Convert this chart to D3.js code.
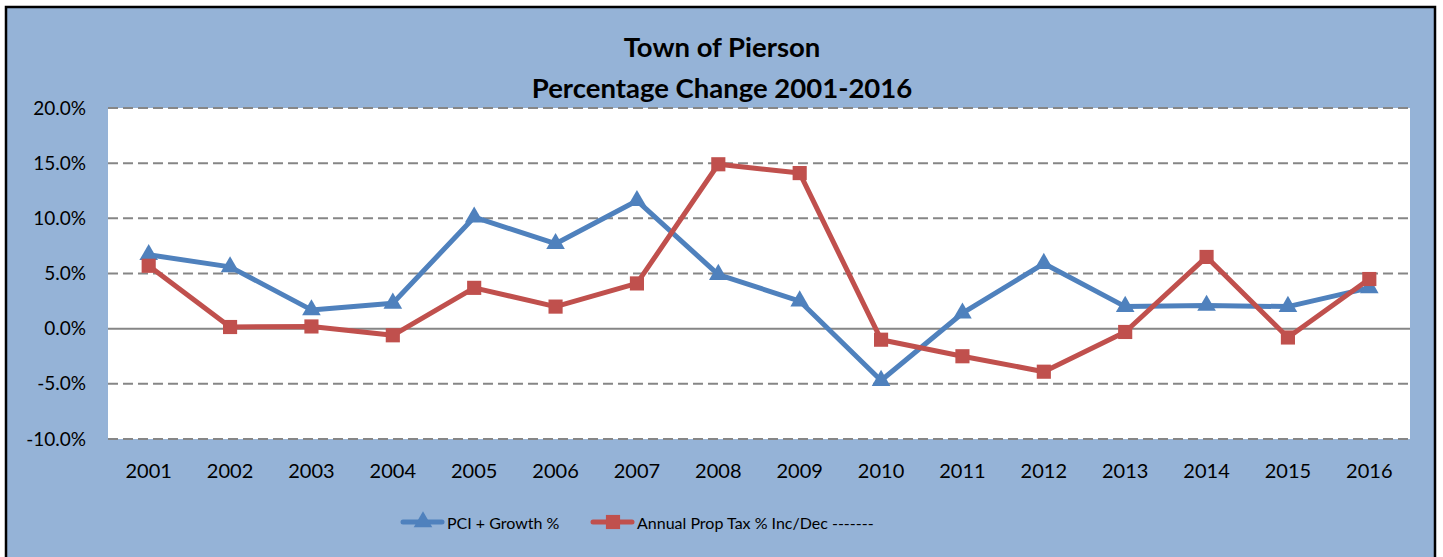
<!DOCTYPE html>
<html>
<head>
<meta charset="utf-8">
<script src="https://cdn.jsdelivr.net/npm/d3@7"></script>
<style>
  body { margin: 0; background: #fff; }
  svg { display: block; font-family: Lato, "Open Sans", sans-serif; }
</style>
</head>
<body>
<script>
let years = ["2001","2002","2003","2004","2005","2006","2007","2008","2009","2010","2011","2012","2013","2014","2015","2016"];
let pciGrowth = [6.7, 5.6, 1.7, 2.3, 10.1, 7.7, 11.6, 4.9, 2.5, -4.7, 1.4, 5.9, 2.0, 2.1, 2.0, 3.7];
let propTax = [5.7, 0.15, 0.2, -0.6, 3.7, 2.0, 4.1, 14.9, 14.1, -1.0, -2.5, -3.9, -0.3, 6.5, -0.8, 4.5];
let yTicks = [-10, -5, 0, 5, 10, 15, 20];
let seriesNames = ["PCI + Growth %", "Annual Prop Tax % Inc/Dec -------"];

let width = 1443, height = 557;
let plot = { left: 108, right: 1410, top: 108, bottom: 439 };
let blue = "#4F81BD", red = "#C0504D";

let svg = d3.select("body").append("svg")
    .attr("width", width)
    .attr("height", height);

// chart area background + border
svg.append("rect")
    .attr("x", 6).attr("y", 7)
    .attr("width", 1429).attr("height", 560)
    .attr("fill", "#95B3D7")
    .attr("stroke", "#000")
    .attr("stroke-width", 2.5);

svg.append("rect")
    .attr("x", plot.left).attr("y", plot.top)
    .attr("width", plot.right - plot.left)
    .attr("height", plot.bottom - plot.top)
    .attr("fill", "#fff");

let x = d3.scaleBand()
    .domain(years)
    .range([plot.left, plot.right]);

let y = d3.scaleLinear()
    .domain([-10, 20])
    .range([plot.bottom, plot.top]);

// gridlines
svg.selectAll("line.grid")
    .data(yTicks)
    .enter()
        .append("line")
        .attr("class", "grid")
        .attr("x1", plot.left)
        .attr("x2", plot.right)
        .attr("y1", (d) => y(d))
        .attr("y2", (d) => y(d))
        .attr("stroke", "#868686")
        .attr("stroke-width", 2)
        .attr("stroke-dasharray", (d) => d === 0 ? null : "10,5");

// y axis labels
let yAxis = d3.axisLeft(y)
    .tickValues(yTicks)
    .tickSize(0)
    .tickPadding(0)
    .tickFormat((d) => d.toFixed(1) + "%");

svg.append("g")
    .attr("transform", `translate(86, 0)`)
    .call(yAxis)
    .call((g) => g.select(".domain").remove())
    .selectAll("text")
        .attr("font-size", 19)
        .attr("font-family", "Lato, 'Open Sans', sans-serif")
        .attr("fill", "#000");

// x axis labels
let xAxis = d3.axisBottom(x)
    .tickSize(0)
    .tickPadding(0);

svg.append("g")
    .attr("transform", `translate(0, 464)`)
    .call(xAxis)
    .call((g) => g.select(".domain").remove())
    .selectAll("text")
        .attr("font-size", 20)
        .attr("font-family", "Lato, 'Open Sans', sans-serif")
        .attr("fill", "#000");

// title
svg.append("text")
    .attr("x", 722).attr("y", 57)
    .attr("text-anchor", "middle")
    .attr("font-size", 27.5)
    .attr("font-weight", "bold")
    .text("Town of Pierson");

svg.append("text")
    .attr("x", 722).attr("y", 98)
    .attr("text-anchor", "middle")
    .attr("font-size", 27.5)
    .attr("font-weight", "bold")
    .text("Percentage Change 2001-2016");

let line = d3.line()
    .x((d, i) => x(years[i]) + x.bandwidth() / 2)
    .y((d) => y(d));

let triangle = d3.symbol().type(d3.symbolTriangle).size(150);
let square = d3.symbol().type(d3.symbolSquare).size(200);

// series
let series = [
    { values: pciGrowth, color: blue, marker: triangle },
    { values: propTax, color: red, marker: square }
];

series.forEach((s) => {
    svg.append("path")
        .attr("d", line(s.values))
        .attr("fill", "none")
        .attr("stroke", s.color)
        .attr("stroke-width", 5)
        .attr("stroke-linejoin", "round");

    svg.selectAll(null)
        .data(s.values)
        .enter()
            .append("path")
            .attr("d", s.marker)
            .attr("transform", (d, i) => `translate(${x(years[i]) + x.bandwidth() / 2}, ${y(d)})`)
            .attr("fill", s.color);
});

// legend
let legendItems = [
    { x: 403, name: seriesNames[0], color: blue, marker: triangle },
    { x: 593, name: seriesNames[1], color: red, marker: square }
];

legendItems.forEach((item) => {
    let g = svg.append("g").attr("transform", `translate(${item.x}, 522)`);
    g.append("line")
        .attr("x1", 0).attr("x2", 39)
        .attr("stroke", item.color)
        .attr("stroke-width", 5)
        .attr("stroke-linecap", "round");
    g.append("path")
        .attr("d", item.marker)
        .attr("transform", "translate(20, 0)")
        .attr("fill", item.color);
    g.append("text")
        .attr("x", 44)
        .attr("y", 7)
        .attr("font-size", 16)
        .text(item.name);
});
</script>
</body>
</html>
